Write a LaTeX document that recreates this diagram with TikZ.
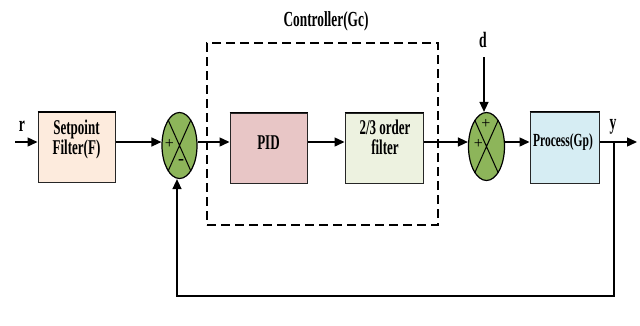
\documentclass[tikz,border=0pt]{standalone}
\usepackage{fontspec}
\setmainfont{Liberation Serif}[FakeStretch=0.62]
\newfontfamily\plainserif{Liberation Serif}
\usetikzlibrary{arrows.meta,shapes.geometric}
\definecolor{cset}{HTML}{FDEBDD}
\definecolor{cpid}{HTML}{E8C6C6}
\definecolor{cfilt}{HTML}{EDF2E0}
\definecolor{cproc}{HTML}{D6EDF3}
\definecolor{csum}{HTML}{8DB55A}
\tikzset{
  blk/.style={draw=black!85, line width=1pt, minimum width=#1, minimum height=70pt, inner sep=0pt},
  btxt/.style={anchor=base, inner sep=0pt, font=\fontsize{21}{21}\selectfont\bfseries},
  sumj/.style={ellipse, draw=black, line width=1.2pt, fill=csum, minimum width=35pt, minimum height=66pt, inner sep=0pt},
  arr/.style={line width=1.4pt, -{Triangle[length=10pt,width=9pt]}},
  sgn/.style={font=\plainserif\fontsize{16}{16}\selectfont, inner sep=0pt},
  lbl/.style={anchor=base, font=\fontsize{21.5}{22}\selectfont\bfseries, inner sep=0pt},
  topedge/.style={line width=1.8pt, line cap=butt}
}
\begin{document}
\begin{tikzpicture}[x=1pt,y=-1pt]
\useasboundingbox (0,0) rectangle (640,325);
\coordinate (lvl) at (0,142);
% blocks
\node[blk=77pt, fill=cset] (setp) at (76.5,147.5) {};
\node[blk=77pt, fill=cpid] (pid) at (268.5,148) {};
\node[blk=78pt, fill=cfilt] (filt) at (384,148) {};
\node[blk=69pt, minimum height=71pt, fill=cproc] (proc) at (564.5,147.5) {};
\foreach \b in {setp,pid,filt,proc}
  \draw[topedge] (\b.north west) -- (\b.north east);
% block texts
\node[btxt] (setpa) at (76.5,134.3) {Setpoint};
\node[btxt] (setpb) at (76.5,154.3) {Filter(F)};
\node[btxt] (pidt) at (268.5,149.3) {PID};
\node[btxt] (filta) at (385,134.3) {2/3 order};
\node[btxt] (filtb) at (385,154.3) {filter};
\node[btxt, font=\fontsize{18.5}{19}\selectfont\bfseries] (proct) at (563,146.7) {Process(Gp)};
% summing junctions
\node[sumj] (sum1) at (179.5,145.5) {};
\node[sumj, minimum width=36pt, minimum height=68pt] (sum2) at (486.5,146.5) {};
\draw[line width=1pt] (sum1.66) -- (sum1.246) (sum1.114) -- (sum1.294);
\draw[line width=1pt] (sum2.66) -- (sum2.246) (sum2.114) -- (sum2.294);
\node[sgn] (s1a) at (169.3,143.5) {+};
\node[sgn, font=\plainserif\fontsize{18}{18}\selectfont\bfseries] (s1b) at (181,162) {-};
\node[sgn] (s2a) at (486,124) {+};
\node[sgn] (s2b) at (478.3,143.5) {+};
% dashed controller box
\node[draw, dash pattern=on 9pt off 5pt, line width=1.5pt, minimum width=231pt, minimum height=182pt, inner sep=0pt] (ctrl) at (322.5,134) {};
\node[lbl] (ctrllbl) at (326,26) {Controller(Gc)};
% coordinates
\coordinate (rin) at (15,142);
\coordinate (brch) at (614,142);
\coordinate (yout) at (637,142);
\coordinate (fbr) at (614,296);
\coordinate (fbl) at (177,296);
\coordinate (din) at (484,57);
\node[lbl, font=\fontsize{22}{22}\selectfont\bfseries] (rl) at (22,131) {r};
\node[lbl, font=\fontsize{22}{22}\selectfont\bfseries] (yl) at (613,129) {y};
\node[lbl, font=\fontsize{22}{22}\selectfont\bfseries] (dl) at (483,47.3) {d};
% connectors
\draw[arr] (rin) -- (setp.west |- lvl);
\draw[arr] (setp.east |- lvl) -- (sum1.west |- lvl);
\draw[arr] (sum1.east |- lvl) -- (pid.west |- lvl);
\draw[arr] (pid.east |- lvl) -- (filt.west |- lvl);
\draw[arr] (filt.east |- lvl) -- (sum2.west |- lvl);
\draw[arr] (sum2.east |- lvl) -- (proc.west |- lvl);
\draw[arr] (proc.east |- lvl) -- (yout);
\draw[arr] (din) -- (din |- sum2.north);
\draw[arr] (brch) -- (fbr) -- (fbl) -- (fbl |- sum1.south);
\end{tikzpicture}
\end{document}
